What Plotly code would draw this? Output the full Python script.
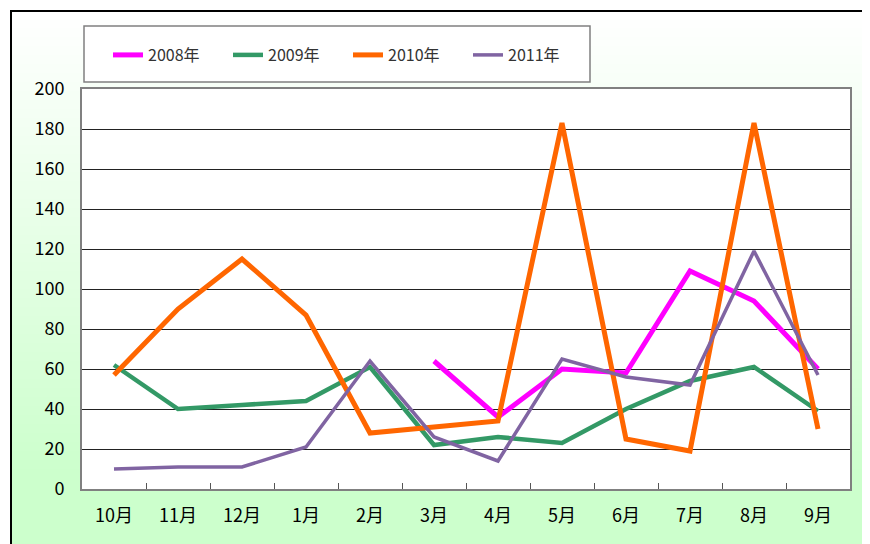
import plotly.graph_objects as go

months = ["10月", "11月", "12月", "1月", "2月", "3月", "4月", "5月", "6月", "7月", "8月", "9月"]
y2008 = [None, None, None, None, None, 64, 36, 60, 58, 109, 94, 60]
y2009 = [62, 40, 42, 44, 61, 22, 26, 23, 40, 54, 61, 39]
y2010 = [57, 90, 115, 87, 28, 31, 34, 183, 25, 19, 183, 30]
y2011 = [10, 11, 11, 21, 64, 26, 14, 65, 56, 52, 119, 57]
series_names = ["2008年", "2009年", "2010年", "2011年"]
y_ticks = [0, 20, 40, 60, 80, 100, 120, 140, 160, 180, 200]

# page body has an 8px margin; figure sized to fit the 870x544 window
OFF = 8
W, H = 870 - OFF, 544 - OFF
L, R, T, B = 74, 20, 81, 55
PW, PH = W - L - R, H - T - B

def px(x):  # screen x -> paper
    return (x - OFF - L) / PW

def py(y):  # screen y -> paper
    return (H - B - (y - OFF)) / PH

FONT = "Noto Sans CJK JP, Noto Sans, sans-serif"

fig = go.Figure()
colors = ["#FF00FF", "#339966", "#FF6600", "#8064A2"]
widths = [5, 4.5, 5, 3.5]
for name, ys, c, w in zip(series_names, [y2008, y2009, y2010, y2011], colors, widths):
    fig.add_trace(go.Scatter(x=months, y=ys, name=name, mode="lines",
                             line=dict(color=c, width=w), connectgaps=False))

shapes = []
# gradient background
x0, x1 = px(10), px(880)
n = 60
top, bot = 10, 550
for i in range(n):
    ya = top + (bot - top) * i / n
    yb = top + (bot - top) * (i + 1) / n
    t = min(1.0, ((ya + yb) / 2 - top) / (470 - top))
    r = round(255 + (204 - 255) * t)
    col = f"rgb({r},255,{r})"
    shapes.append(dict(type="rect", xref="paper", yref="paper", x0=x0, x1=x1,
                       y0=py(yb + 0.5), y1=py(ya), fillcolor=col, line=dict(width=0),
                       layer="below"))
# plot area white
shapes.append(dict(type="rect", xref="paper", yref="paper", x0=0, x1=1, y0=0, y1=1,
                   fillcolor="white", line=dict(width=0), layer="below"))
# legend box
shapes.append(dict(type="rect", xref="paper", yref="paper", x0=px(84), x1=px(590),
                   y0=py(82), y1=py(26), fillcolor="white",
                   line=dict(color="#808080", width=1.5), layer="below"))
# outer border lines
shapes.append(dict(type="line", xref="paper", yref="paper", x0=px(10), x1=px(890),
                   y0=py(11), y1=py(11), line=dict(color="black", width=2), layer="above"))
shapes.append(dict(type="line", xref="paper", yref="paper", x0=px(11), x1=px(11),
                   y0=py(10), y1=py(560), line=dict(color="black", width=2), layer="above"))

fig.update_layout(
    width=W, height=H,
    margin=dict(l=L, r=R, t=T, b=B, autoexpand=False),
    paper_bgcolor="white", plot_bgcolor="white",
    shapes=shapes,
    showlegend=True,
    legend=dict(orientation="h", x=px(108), y=py(38), xanchor="left", yanchor="top",
                bgcolor="rgba(0,0,0,0)", borderwidth=0,
                entrywidth=75, entrywidthmode="pixels",
                font=dict(family=FONT, size=16, color="#333")),
    xaxis=dict(type="category", tickson="boundaries", ticks="inside", ticklen=6,
               tickcolor="#555", showgrid=False, showline=True, linecolor="#808080",
               linewidth=2, mirror=True, ticklabelstandoff=9,
               tickfont=dict(family=FONT, size=18, color="black"),
               range=[-0.5, 11.5]),
    yaxis=dict(range=[0, 200], tickvals=y_ticks, showgrid=True, gridcolor="#222",
               gridwidth=1, showline=True, linecolor="#808080", linewidth=2, mirror=True,
               ticks="", zeroline=False, ticklabelstandoff=12,
               tickfont=dict(family=FONT, size=18, color="black")),
)

fig.write_html("out.html")
